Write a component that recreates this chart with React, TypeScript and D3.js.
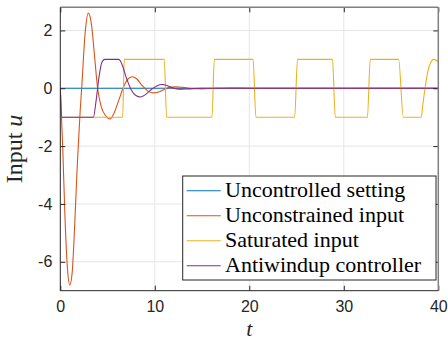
import React, { useRef, useEffect } from 'react';
import * as d3 from 'd3';

// time series (t, u)
const uncontrolledT = [0, 40];
const uncontrolledU = [0, 0];

const unconstrainedT = [0, 0.25, 0.5, 0.75, 1.0, 1.25, 1.5, 1.75, 1.9, 2.1, 2.3, 2.6, 2.97, 3.3, 3.6, 3.95, 4.3, 4.8, 5.26, 5.7, 6.2, 6.7, 7.1, 7.6, 8.1, 8.6, 9.2, 9.8, 10.4, 11.0, 11.6, 12.2, 13, 14, 15, 16.5, 18, 20, 40];
const unconstrainedU = [0, -2.0, -4.5, -6.2, -6.8, -6.4, -4.9, -3.0, -2.0, -0.8, 0.2, 1.8, 2.6, 2.2, 1.2, 0, -0.6, -0.95, -1.06, -0.85, -0.4, 0.05, 0.3, 0.4, 0.32, 0.12, -0.08, -0.16, -0.13, -0.04, 0.03, 0.05, 0.03, -0.01, -0.02, 0, 0.01, 0, 0];

const saturatedT = [0, 0.15, 6.6, 6.77, 11.0, 11.25, 16.05, 16.3, 20.4, 20.7, 24.8, 25.1, 28.8, 29.1, 32.5, 32.8, 35.8, 36.3, 38.2, 38.35, 38.6, 38.9, 39.2, 39.5, 39.75, 40];
const saturatedU = [0, -1, -1, 1, 1, -1, -1, 1, 1, -1, -1, 1, 1, -1, -1, 1, 1, -1, -1, -0.6, 0, 0.6, 0.9, 1.0, 0.98, 0.9];

const antiwindupT = [0, 0.15, 3.5, 3.8, 4.1, 4.4, 4.7, 6.2, 6.5, 7.0, 7.5, 8.0, 8.5, 9.0, 9.6, 10.2, 10.8, 11.4, 12.0, 12.6, 13.5, 15, 40];
const antiwindupU = [0, -1, -1, -0.4, 0.4, 0.9, 1.0, 1.0, 0.85, 0.35, -0.05, -0.25, -0.3, -0.22, -0.05, 0.08, 0.13, 0.08, 0.0, -0.03, -0.02, 0, 0];

const seriesNames = ['Uncontrolled setting', 'Unconstrained input', 'Saturated input', 'Antiwindup controller'];
const seriesColors = ['#0072BD', '#D95319', '#EDB120', '#7E2F8E'];

const xTicks = [0, 10, 20, 30, 40];
const yTicks = [-6, -4, -2, 0, 2];

function Chart({ width = 448, height = 340 }) {
  const svgRef = useRef(null);

  useEffect(() => {
    const margin = { top: 7.3, right: 9.7, bottom: 49.3, left: 60.3 };
    const innerWidth = width - margin.left - margin.right;
    const innerHeight = height - margin.top - margin.bottom;

    const svg = d3.select(svgRef.current);
    svg.selectAll('*').remove();

    const x = d3.scaleLinear().domain([0, 40]).range([0, innerWidth]);
    const y = d3.scaleLinear().domain([-7, 2.8]).range([innerHeight, 0]);

    const g = svg.append('g').attr('transform', `translate(${margin.left}, ${margin.top})`);

    // grid
    g.append('g')
      .selectAll('line')
      .data(xTicks.slice(1, -1))
      .enter()
      .append('line')
      .attr('x1', d => x(d))
      .attr('x2', d => x(d))
      .attr('y1', 0)
      .attr('y2', innerHeight)
      .attr('stroke', '#e6e6e6')
      .attr('stroke-width', 1);
    g.append('g')
      .selectAll('line')
      .data(yTicks)
      .enter()
      .append('line')
      .attr('x1', 0)
      .attr('x2', innerWidth)
      .attr('y1', d => y(d))
      .attr('y2', d => y(d))
      .attr('stroke', '#e6e6e6')
      .attr('stroke-width', 1);

    // lines
    const series = [
      [uncontrolledT, uncontrolledU],
      [unconstrainedT, unconstrainedU],
      [saturatedT, saturatedU],
      [antiwindupT, antiwindupU],
    ];
    const line = d3.line<[number, number]>()
      .x(d => x(d[0]))
      .y(d => y(d[1]))
      .curve(d3.curveMonotoneX);
    const clip = svg.append('clipPath').attr('id', 'plotclip');
    clip.append('rect').attr('width', innerWidth).attr('height', innerHeight);
    const lines = g.append('g').attr('clip-path', 'url(#plotclip)');
    series.forEach(([ts, us], i) => {
      const pts = ts.map((t, k) => [t, us[k]] as [number, number]);
      lines.append('path')
        .attr('d', line(pts))
        .attr('fill', 'none')
        .attr('stroke', seriesColors[i])
        .attr('stroke-width', 1.1);
    });

    const fmt = (d) => `${d}`;
    const axisColor = '#262626';
    const styleAxis = (sel, showText) => {
      sel.select('.domain').remove();
      sel.selectAll('line').attr('stroke', axisColor);
      sel.selectAll('text')
        .attr('fill', axisColor)
        .attr('font-family', '"Liberation Sans", Arial, sans-serif')
        .attr('font-size', 16);
      if (!showText) sel.selectAll('text').remove();
    };

    g.append('g')
      .attr('transform', `translate(0, ${innerHeight})`)
      .call(d3.axisBottom(x).tickValues(xTicks).tickSizeInner(-5).tickSizeOuter(0).tickPadding(10).tickFormat(fmt))
      .call(s => styleAxis(s, true));
    g.append('g')
      .call(d3.axisLeft(y).tickValues(yTicks).tickSizeInner(-5).tickSizeOuter(0).tickPadding(8).tickFormat(fmt))
      .call(s => styleAxis(s, true));
    g.append('g')
      .call(d3.axisTop(x).tickValues(xTicks).tickSizeInner(-5).tickSizeOuter(0))
      .call(s => styleAxis(s, false));
    g.append('g')
      .attr('transform', `translate(${innerWidth}, 0)`)
      .call(d3.axisRight(y).tickValues(yTicks).tickSizeInner(-5).tickSizeOuter(0))
      .call(s => styleAxis(s, false));

    // box
    g.append('line').attr('x1', 0).attr('x2', innerWidth).attr('y1', 0).attr('y2', 0)
      .attr('stroke', '#808080').attr('stroke-width', 1.5);
    g.append('line').attr('x1', innerWidth).attr('x2', innerWidth).attr('y1', 0).attr('y2', innerHeight)
      .attr('stroke', '#808080').attr('stroke-width', 1.5);
    g.append('line').attr('x1', 0).attr('x2', 0).attr('y1', 0).attr('y2', innerHeight)
      .attr('stroke', axisColor).attr('stroke-width', 1);
    g.append('line').attr('x1', 0).attr('x2', innerWidth).attr('y1', innerHeight).attr('y2', innerHeight)
      .attr('stroke', axisColor).attr('stroke-width', 1);

    // axis labels
    g.append('text')
      .attr('x', innerWidth / 2)
      .attr('y', innerHeight + 45)
      .attr('text-anchor', 'middle')
      .attr('font-family', '"Liberation Serif", serif')
      .attr('font-style', 'italic')
      .attr('font-size', 22)
      .attr('fill', axisColor)
      .text('t');

    const yl = g.append('text')
      .attr('transform', `translate(${-38}, ${innerHeight / 2}) rotate(-90)`)
      .attr('text-anchor', 'middle')
      .attr('font-family', '"Liberation Serif", serif')
      .attr('font-size', 24)
      .attr('fill', axisColor);
    yl.append('tspan').text('Input ');
    yl.append('tspan').attr('font-style', 'italic').text('u');

    // legend
    const lx = 182.7 - margin.left;
    const ly = 176 - margin.top;
    const legend = g.append('g').attr('transform', `translate(${lx}, ${ly})`);
    legend.append('rect')
      .attr('width', 253.3)
      .attr('height', 104)
      .attr('fill', '#fff')
      .attr('stroke', axisColor)
      .attr('stroke-width', 1);
    seriesNames.forEach((name, i) => {
      const cy = 14.7 + i * 25;
      legend.append('line')
        .attr('x1', 4)
        .attr('x2', 38)
        .attr('y1', cy)
        .attr('y2', cy)
        .attr('stroke', seriesColors[i])
        .attr('stroke-width', 1.1);
      legend.append('text')
        .attr('x', 42.3)
        .attr('y', cy + 6.3)
        .attr('font-family', '"Liberation Serif", serif')
        .attr('font-size', 22)
        .attr('fill', '#000')
        .text(name);
    });
  }, [width, height]);

  return (
    <svg
      ref={svgRef}
      width={width}
      height={height}
      viewBox={`0 0 ${width} ${height}`}
      style={{ position: 'absolute', left: 0, top: 0, background: '#fff' }}
    />
  );
}

export default function App() {
  return <Chart />;
}
